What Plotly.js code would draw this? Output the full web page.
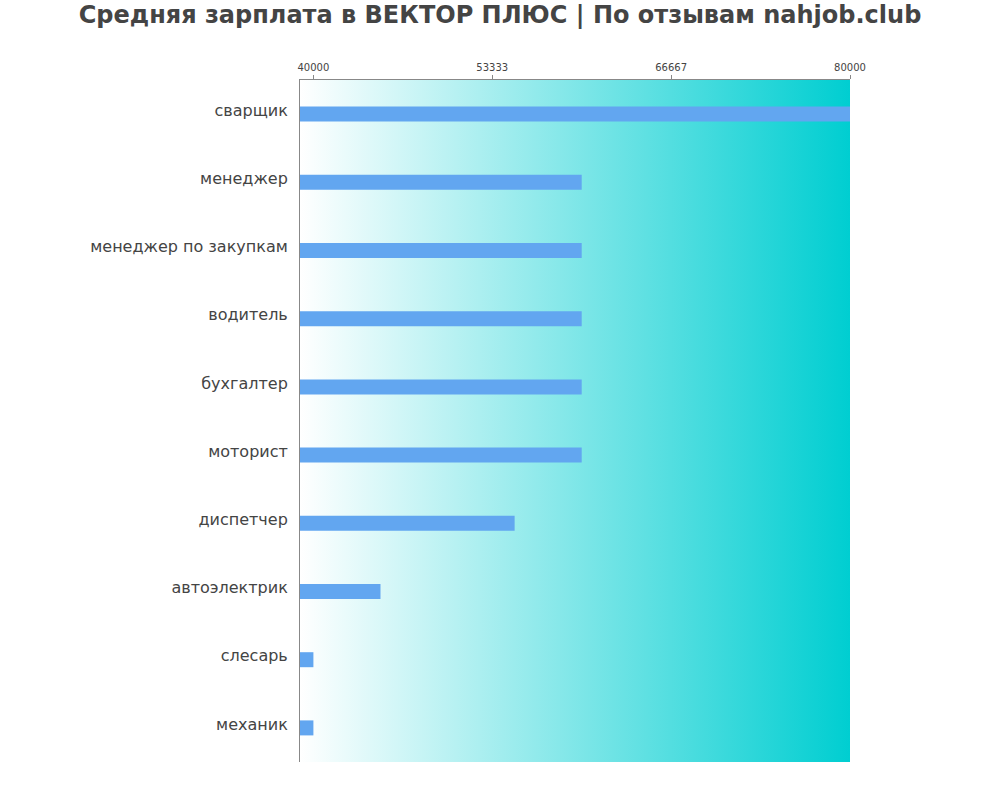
<!DOCTYPE html>
<html>
<head>
<meta charset="utf-8">
<script src="https://cdn.plot.ly/plotly-3.0.1.min.js"></script>
<style>
  body { margin: 0; background: #fff; }
  #chart { width: 1000px; height: 800px; }
</style>
</head>
<body>
<div id="chart"></div>
<script>
// Professions, top to bottom
var jobs = ["сварщик", "менеджер", "менеджер по закупкам", "водитель", "бухгалтер",
            "моторист", "диспетчер", "автоэлектрик", "слесарь", "механик"];
// Average salary, rub
var salary = [80000, 60000, 60000, 60000, 60000, 60000, 55000, 45000, 40000, 40000];

var tickVals = [40000, 53333, 66667, 80000];
var tickText = ["40000", "53333", "66667", "80000"];

// background gradient as svg
var grad = '<svg xmlns="http://www.w3.org/2000/svg" width="100" height="100" preserveAspectRatio="none">' +
  '<defs><linearGradient id="g" x1="0" y1="0" x2="1" y2="0">' +
  '<stop offset="0" stop-color="#ffffff"/><stop offset="1" stop-color="#00ced1"/>' +
  '</linearGradient></defs><rect width="100" height="100" fill="url(#g)"/></svg>';
var gradUrl = "data:image/svg+xml;base64," + btoa(grad);

var trace = {
    type: "bar",
    orientation: "h",
    x: salary.map(function(v) { return v - 39000; }),
    base: 39000,
    y: jobs,
    width: 0.22,
    marker: {color: "#62a6f0"},
    hoverinfo: "x+y"
};

var layout = {
    width: 1000,
    height: 800,
    margin: {l: 300, r: 150, t: 80, b: 38},
    paper_bgcolor: "#ffffff",
    plot_bgcolor: "rgba(0,0,0,0)",
    font: {family: "DejaVu Sans, sans-serif", color: "#444"},
    showlegend: false,
    title: {
        text: "<b>Средняя зарплата в ВЕКТОР ПЛЮС | По отзывам nahjob.club</b>",
        font: {size: 24, color: "#444"},
        x: 0.5, xanchor: "center",
        y: 0.982, yanchor: "middle"
    },
    xaxis: {
        side: "top",
        range: [39000, 80000],
        tickvals: tickVals,
        ticktext: tickText,
        ticks: "outside",
        ticklen: 4,
        tickcolor: "#888",
        tickfont: {size: 10, color: "#444"},
        showgrid: false,
        zeroline: false,
        showline: true,
        linecolor: "#888",
        linewidth: 1,
        fixedrange: true
    },
    yaxis: {
        type: "category",
        categoryorder: "array",
        categoryarray: jobs,
        autorange: "reversed",
        tickfont: {size: 16, color: "#444"},
        ticks: "outside",
        ticklen: 8,
        tickcolor: "rgba(0,0,0,0)",
        ticklabelshift: 4,
        showgrid: false,
        zeroline: false,
        showline: true,
        linecolor: "#888",
        linewidth: 1,
        fixedrange: true
    },
    images: [{
        source: gradUrl,
        xref: "paper", yref: "paper",
        x: 0, y: 1, sizex: 1, sizey: 1,
        xanchor: "left", yanchor: "top",
        sizing: "stretch",
        layer: "below"
    }]
};

Plotly.newPlot("chart", [trace], layout, {displayModeBar: false, staticPlot: true});
</script>
</body>
</html>
